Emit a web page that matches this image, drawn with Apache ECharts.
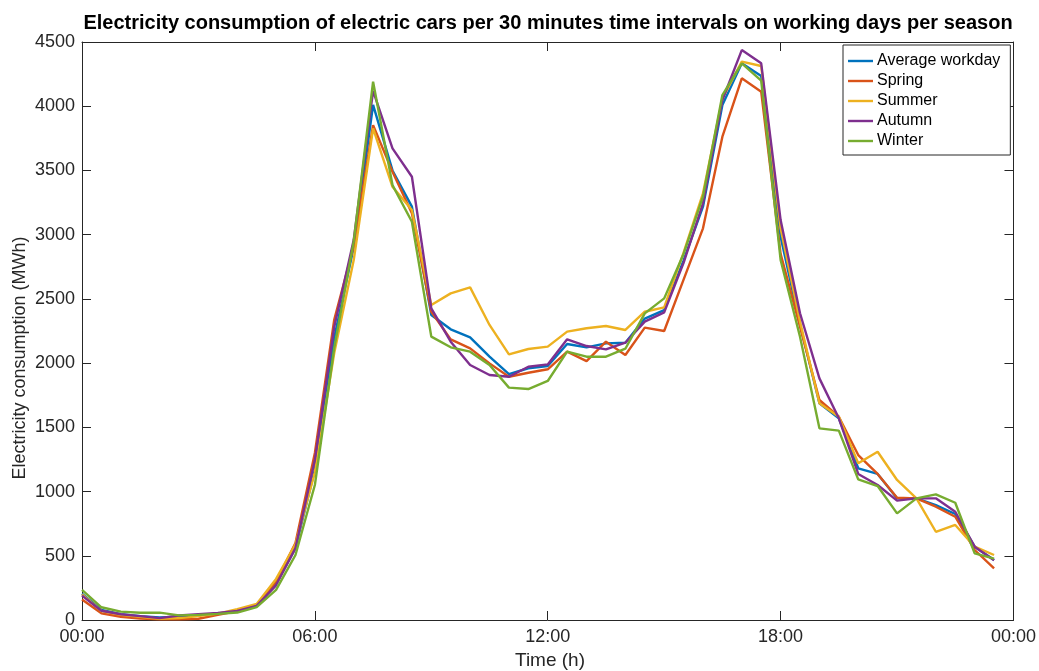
<!DOCTYPE html>
<html>
<head>
<meta charset="utf-8">
<script src="https://cdn.jsdelivr.net/npm/echarts@6/dist/echarts.min.js"></script>
<style>
  html, body { margin: 0; padding: 0; background: #fff; }
  #chart { width: 1039px; height: 671px; }
</style>
</head>
<body>
<div id="chart"></div>
<script>
// Half-hour time steps (hours since midnight)
const hours = [0, 0.5, 1, 1.5, 2, 2.5, 3, 3.5, 4, 4.5, 5, 5.5, 6, 6.5, 7, 7.5,
  8, 8.5, 9, 9.5, 10, 10.5, 11, 11.5, 12, 12.5, 13, 13.5, 14, 14.5, 15, 15.5,
  16, 16.5, 17, 17.5, 18, 18.5, 19, 19.5, 20, 20.5, 21, 21.5, 22, 22.5, 23, 23.5];

// Electricity consumption per interval (MWh)
const averageWorkday = [205, 78, 45, 30, 20, 25, 40, 50, 70, 110, 285, 560, 1170, 2200, 2900, 4010,
  3500, 3218, 2374, 2263, 2201, 2050, 1915, 1960, 1977, 2149, 2123, 2154, 2159, 2347, 2413, 2800,
  3218, 4009, 4334, 4235, 2984, 2300, 1687, 1570, 1181, 1137, 948, 947, 895, 825, 571, 467];
const spring = [160, 52, 25, 12, 5, 5, 10, 40, 70, 115, 300, 600, 1300, 2340, 2910, 3853,
  3490, 3166, 2400, 2185, 2115, 1998, 1894, 1925, 1952, 2089, 2016, 2167, 2063, 2276, 2250, 2650,
  3049, 3763, 4217, 4113, 2850, 2284, 1713, 1583, 1284, 1137, 952, 947, 882, 804, 545, 402];
const summer = [200, 70, 40, 25, 10, 15, 30, 50, 85, 125, 320, 590, 1150, 2080, 2800, 3828,
  3373, 3192, 2452, 2543, 2590, 2297, 2068, 2110, 2128, 2245, 2271, 2289, 2258, 2400, 2434, 2860,
  3322, 4061, 4347, 4313, 3050, 2323, 1687, 1583, 1220, 1310, 1090, 947, 687, 740, 571, 506];
const autumn = [190, 72, 45, 30, 15, 35, 45, 55, 70, 110, 270, 560, 1246, 2283, 2958, 4120,
  3672, 3451, 2426, 2167, 1985, 1907, 1894, 1972, 1990, 2185, 2133, 2107, 2159, 2323, 2395, 2780,
  3244, 4048, 4437, 4334, 3114, 2388, 1881, 1570, 1137, 1051, 929, 947, 947, 843, 571, 465];
const winter = [234, 99, 65, 57, 57, 36, 40, 48, 58, 100, 234, 506, 1051, 2120, 2945, 4191,
  3386, 3101, 2206, 2123, 2089, 1985, 1809, 1798, 1861, 2089, 2050, 2050, 2112, 2387, 2504, 2850,
  3296, 4087, 4334, 4199, 2803, 2206, 1492, 1474, 1095, 1043, 830, 947, 978, 913, 519, 478];

const seriesNames = ['Average workday', 'Spring', 'Summer', 'Autumn', 'Winter'];
const xTickLabels = ['00:00', '06:00', '12:00', '18:00', '00:00'];

const FONT = 'Liberation Sans, Arial, Helvetica, sans-serif';
const INK = '#262626';
const colors = ['#0072BD', '#D95319', '#EDB120', '#7E2F8E', '#77AC30'];
const seriesData = [averageWorkday, spring, summer, autumn, winter];

const chart = echarts.init(document.getElementById('chart'), null, { renderer: 'canvas' });

const tickStyle = { show: true, inside: true, length: 9, lineStyle: { color: INK, width: 1 } };
const axisLineStyle = { show: true, onZero: false, lineStyle: { color: INK, width: 1 } };

const option = {
  backgroundColor: '#ffffff',
  animation: false,
  color: colors,
  grid: { left: 82, right: 24, top: 42, bottom: 51, containLabel: false },
  legend: {
    orient: 'vertical',
    left: 843,
    top: 45,
    icon: 'rect',
    itemWidth: 25,
    itemHeight: 2.4,
    itemGap: 4,
    padding: [8, 10, 6, 5],
    borderColor: INK,
    borderWidth: 1,
    borderRadius: 0,
    backgroundColor: '#ffffff',
    textStyle: { fontSize: 16, lineHeight: 16, color: '#000', fontFamily: FONT, padding: [0, 0, 0, -1] },
    data: seriesNames
  },
  xAxis: [
    {
      type: 'value', min: 0, max: 24, interval: 6, position: 'bottom',
      axisLine: axisLineStyle, axisTick: tickStyle, splitLine: { show: false },
      axisLabel: {
        margin: 8, fontSize: 18, color: INK, fontFamily: FONT,
        formatter: v => xTickLabels[Math.round(v / 6)]
      }
    },
    {
      type: 'value', min: 0, max: 24, interval: 6, position: 'top',
      axisLine: axisLineStyle, axisTick: tickStyle, splitLine: { show: false },
      axisLabel: { show: false }
    }
  ],
  yAxis: [
    {
      type: 'value', min: 0, max: 4500, interval: 500, position: 'left',
      axisLine: axisLineStyle, axisTick: tickStyle, splitLine: { show: false },
      axisLabel: { margin: 7, fontSize: 18, color: INK, fontFamily: FONT, formatter: v => String(v) }
    },
    {
      type: 'value', min: 0, max: 4500, interval: 500, position: 'right',
      axisLine: axisLineStyle, axisTick: tickStyle, splitLine: { show: false },
      axisLabel: { show: false }
    }
  ],
  // Title and axis titles placed as text elements
  graphic: [
    {
      type: 'text', x: 548, y: 23,
      style: {
        text: 'Electricity consumption of electric cars per 30 minutes time intervals on working days per season',
        font: 'bold 20px ' + FONT, fill: '#000', align: 'center', verticalAlign: 'middle'
      }
    },
    {
      type: 'text', x: 550, y: 661,
      style: {
        text: 'Time (h)', font: '19px ' + FONT, fill: INK, align: 'center', verticalAlign: 'middle'
      }
    },
    {
      type: 'text', x: 20, y: 358, rotation: Math.PI / 2,
      style: {
        text: 'Electricity consumption (MWh)', font: '18px ' + FONT, fill: INK,
        align: 'center', verticalAlign: 'middle'
      }
    }
  ],
  series: seriesData.map((vals, k) => ({
    name: seriesNames[k],
    type: 'line',
    symbol: 'none',
    xAxisIndex: 0,
    yAxisIndex: 0,
    lineStyle: { width: 2.4, color: colors[k] },
    itemStyle: { color: colors[k] },
    data: hours.map((h, i) => [h, vals[i]])
  }))
};

chart.setOption(option);
</script>
</body>
</html>
